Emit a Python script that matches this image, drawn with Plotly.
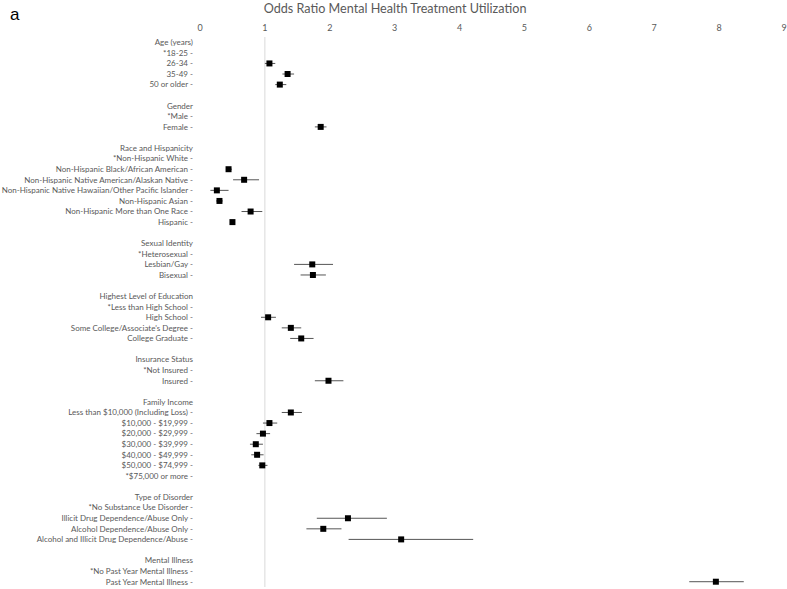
import plotly.graph_objects as go

labels = [
    "Age (years)", "*18-25 -", "26-34 -", "35-49 -", "50 or older -", "",
    "Gender", "*Male -", "Female -", "",
    "Race and Hispanicity", "*Non-Hispanic White -", "Non-Hispanic Black/African American -",
    "Non-Hispanic Native American/Alaskan Native -",
    "Non-Hispanic Native Hawaiian/Other Pacific Islander -", "Non-Hispanic Asian -",
    "Non-Hispanic More than One Race -", "Hispanic -", "",
    "Sexual Identity", "*Heterosexual -", "Lesbian/Gay -", "Bisexual -", "",
    "Highest Level of Education", "*Less than High School -", "High School -",
    "Some College/Associate's Degree -", "College Graduate -", "",
    "Insurance Status", "*Not Insured -", "Insured -", "",
    "Family Income", "Less than $10,000 (Including Loss) -", "$10,000 - $19,999 -",
    "$20,000 - $29,999 -", "$30,000 - $39,999 -", "$40,000 - $49,999 -",
    "$50,000 - $74,999 -", "*$75,000 or more -", "",
    "Type of Disorder", "*No Substance Use Disorder -", "Illicit Drug Dependence/Abuse Only -",
    "Alcohol Dependence/Abuse Only -", "Alcohol and Illicit Drug Dependence/Abuse -", "",
    "Mental Illness", "*No Past Year Mental Illness -", "Past Year Mental Illness -",
]

N = None
odds = [
    N, N, 1.07, 1.35, 1.23, N,
    N, N, 1.86, N,
    N, N, 0.44, 0.68, 0.26, 0.30, 0.78, 0.50, N,
    N, N, 1.73, 1.74, N,
    N, N, 1.05, 1.40, 1.56, N,
    N, N, 1.98, N,
    N, 1.40, 1.07, 0.97, 0.86, 0.88, 0.96, N, N,
    N, N, 2.28, 1.90, 3.10, N,
    N, N, 7.95,
]
ci_low = [
    N, N, 1.00, 1.27, 1.16, N,
    N, N, 1.77, N,
    N, N, 0.40, 0.51, 0.16, 0.25, 0.64, 0.47, N,
    N, N, 1.45, 1.55, N,
    N, N, 0.94, 1.26, 1.39, N,
    N, N, 1.77, N,
    N, 1.26, 0.97, 0.87, 0.77, 0.79, 0.90, N, N,
    N, N, 1.80, 1.64, 2.29, N,
    N, N, 7.54,
]
ci_high = [
    N, N, 1.16, 1.45, 1.33, N,
    N, N, 1.95, N,
    N, N, 0.49, 0.91, 0.44, 0.35, 0.96, 0.54, N,
    N, N, 2.05, 1.94, N,
    N, N, 1.17, 1.56, 1.75, N,
    N, N, 2.21, N,
    N, 1.57, 1.19, 1.08, 0.97, 0.98, 1.04, N, N,
    N, N, 2.88, 2.18, 4.21, N,
    N, N, 8.38,
]

rows = list(range(len(labels)))
xs, ys, ep, em = [], [], [], []
for r, o, lo, hi in zip(rows, odds, ci_low, ci_high):
    if o is None:
        continue
    xs.append(o)
    ys.append(r)
    ep.append(hi - o)
    em.append(o - lo)

fig = go.Figure()
fig.add_trace(go.Scatter(
    x=xs, y=ys, mode="markers",
    marker=dict(symbol="square", size=6, color="black"),
    error_x=dict(type="data", array=ep, arrayminus=em, symmetric=False,
                 color="#555555", thickness=1, width=0),
    showlegend=False,
))

fig.add_shape(type="line", x0=1, x1=1, y0=0, y1=1, xref="x", yref="paper",
              line=dict(color="#d9d9d9", width=1), layer="below")

fig.update_layout(
    width=787, height=589,
    margin=dict(l=200, r=3, t=37, b=2, autoexpand=False),
    paper_bgcolor="white", plot_bgcolor="white",
    title=dict(text="Odds Ratio Mental Health Treatment Utilization",
               x=0.502, xref="container", xanchor="center",
               y=1 - 8.5 / 589, yref="container", yanchor="middle",
               font=dict(family="Lato", size=12.6, color="#595959")),
    font=dict(family="Lato", color="#595959"),
    xaxis=dict(range=[0, 9], side="top", tickvals=list(range(10)),
               showgrid=False, zeroline=False, showline=False, automargin=False,
               ticklabelstandoff=3,
               tickfont=dict(size=9, color="#595959")),
    yaxis=dict(range=[len(labels) - 0.5, -0.5], tickvals=rows, ticktext=labels,
               showgrid=False, zeroline=False, showline=False, automargin=False,
               tickfont=dict(size=8.0, color="#595959"), ticklabelstandoff=6),
)

fig.add_annotation(text="a", x=(8 - 200) / 584, y=1 + 34 / 550, xref="paper", yref="paper",
                   xanchor="left", yanchor="top", showarrow=False,
                   font=dict(family="Liberation Sans", size=17, color="black"))

fig.write_html("out.html", config={"displayModeBar": False},
               post_script="document.body.style.margin='0';")
